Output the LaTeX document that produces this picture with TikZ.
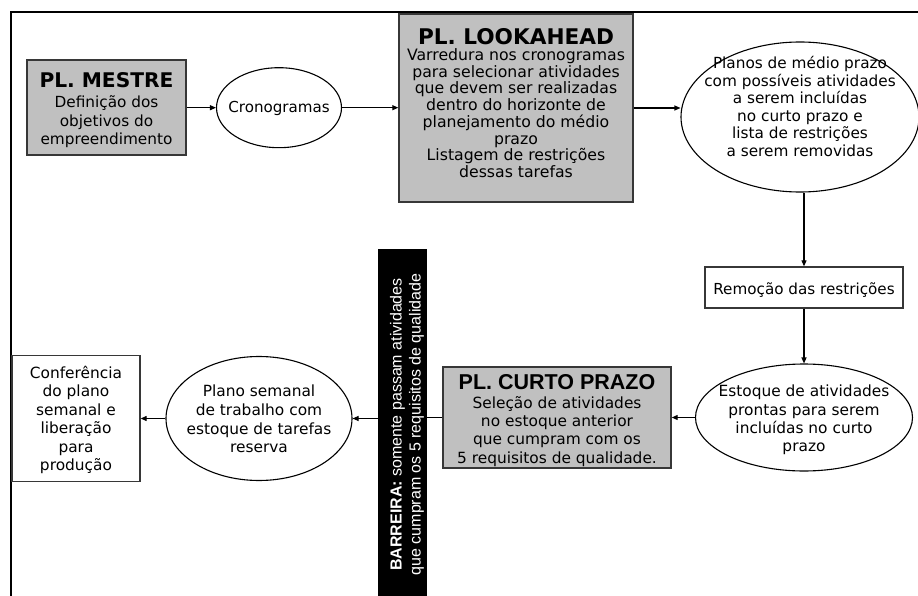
\documentclass[tikz,border=0pt]{standalone}
\usepackage{fontspec}
\setmainfont{DejaVu Sans}
\newfontfamily\arialf{Liberation Sans}
\usetikzlibrary{arrows.meta,shapes.geometric}
\definecolor{boxgray}{RGB}{192,192,192}
\definecolor{edgegray}{RGB}{55,55,55}
\begin{document}
\begin{tikzpicture}[x=1pt,y=-1pt,
  graybox/.style={draw=edgegray, line width=1.4pt, fill=boxgray, inner sep=0pt},
  whitebox/.style={draw=edgegray, line width=1.3pt, fill=white, inner sep=0pt},
  ell/.style={ellipse, draw=black, line width=1.1pt, fill=white, inner sep=0pt},
  bar/.style={fill=black, draw=none, inner sep=0pt},
  txt/.style={inner sep=0pt, align=center, anchor=base},
  arr/.style={-{Triangle[length=6pt,width=5pt]}, line width=1.1pt},
  ln/.style={line width=1.1pt},
]
\fill[white] (0,0) rectangle (918,596);
\useasboundingbox (0,0) rectangle (918,596);
% frame
\draw[line width=2.4pt] (11,600) -- (11,12) -- (925,12);

% shapes
\node[graybox, minimum width=159pt, minimum height=95pt] (mestre) at (106.5,107.5) {};
\node[ell, minimum width=125pt, minimum height=80pt] (crono) at (279,107.7) {};
\node[graybox, minimum width=234pt, minimum height=188pt] (look) at (516,108) {};
\node[ell, minimum width=238pt, minimum height=150pt] (planos) at (800,117) {};
\node[whitebox, minimum width=198pt, minimum height=41pt] (remo) at (804,287.5) {};
\node[ell, minimum width=217pt, minimum height=107pt] (estoque) at (804,417.5) {};
\node[graybox, minimum width=228pt, minimum height=101pt] (curto) at (557,417.5) {};
\node[bar, minimum width=49pt, minimum height=350pt] (barreira) at (402.5,424) {};
\node[ell, minimum width=186pt, minimum height=124pt] (plano) at (259,418.5) {};
\node[whitebox, minimum width=128pt, minimum height=126pt] (conf) at (76,418.5) {};

% texts (anchored at the baseline of their last line)
\node[txt, font=\fontsize{15.3}{18.8}\selectfont] (mestreT) at (106.5,145)
  {{\fontsize{20.2}{20}\selectfont\bfseries PL. MESTRE}\\[1pt]Definição dos\\objetivos do\\empreendimento};
\node[txt, font=\fontsize{15.1}{18}\selectfont] (cronoT) at (279,113) {Cronogramas};
\node[txt, font=\fontsize{15.7}{16.7}\selectfont] (lookT) at (516,177.5)
  {{\fontsize{21.6}{21}\selectfont\bfseries PL. LOOKAHEAD}\\[-1pt]Varredura nos cronogramas\\para selecionar atividades\\que devem ser realizadas\\dentro do horizonte de\\planejamento do médio\\prazo\\Listagem de restrições\\dessas tarefas};
\node[txt, font=\fontsize{15.3}{17.5}\selectfont] (planosT) at (800,156.5)
  {Planos de médio prazo\\com possíveis atividades\\a serem incluídas\\no curto prazo e\\lista de restrições\\a serem removidas};
\node[txt, font=\fontsize{15.2}{18}\selectfont] (remoT) at (804,294) {Remoção das restrições};
\node[txt, font=\fontsize{15.4}{18.3}\selectfont] (estoqueT) at (804,451.6)
  {Estoque de atividades\\prontas para serem\\incluídas no curto\\prazo};
\node[txt, font=\fontsize{15.4}{18.3}\selectfont] (curtoT) at (557,463.2)
  {{\arialf\fontsize{21.5}{21}\selectfont\bfseries PL. CURTO PRAZO}\\[0.7pt]Seleção de atividades\\no estoque anterior\\que cumpram com os\\5 requisitos de qualidade.};
\node[txt, anchor=center, rotate=90, text=white, font=\arialf\fontsize{16}{19}\selectfont] (barreiraT) at (407,424.5)
  {\textbf{BARREIRA:} somente passam atividades\\que cumpram os 5 requisitos de qualidade};
\node[txt, font=\fontsize{15.4}{18.7}\selectfont] (planoT) at (259,452.8)
  {Plano semanal\\de trabalho com\\estoque de tarefas\\reserva};
\node[txt, font=\fontsize{15.4}{18.5}\selectfont] (confT) at (76,470.8)
  {Conferência\\do plano\\semanal e\\liberação\\para\\produção};

% connectors
\draw[arr] (mestre.east |- crono.west) -- (crono.west);
\draw[arr] (crono.east) -- (crono.east -| look.west);
\draw[arr] (look.east) -- (look.east -| planos.west);
\draw[arr] (planos.south -| remo.north) -- (remo.north);
\draw[arr] (remo.south) -- (estoque.north);
\draw[arr] (estoque.west) -- (curto.east);
\draw[ln] (curto.west) -- (curto.west -| barreira.east);
\draw[arr] (plano.east -| barreira.west) -- (plano.east);
\draw[arr] (plano.west) -- (conf.east);
\end{tikzpicture}
\end{document}
